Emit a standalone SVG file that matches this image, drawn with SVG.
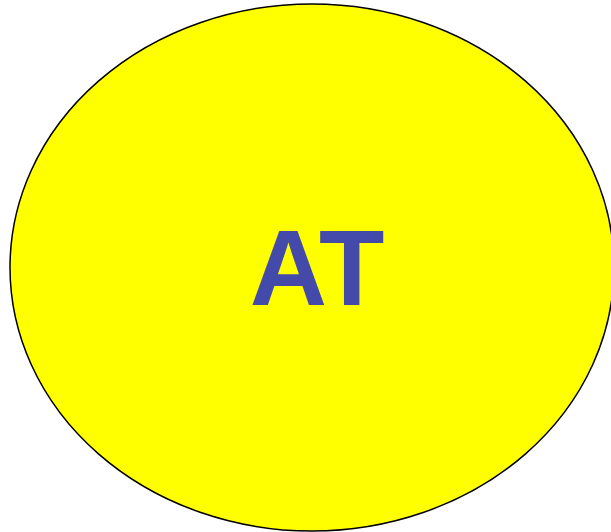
<svg xmlns="http://www.w3.org/2000/svg" width="611" height="532" viewBox="0 0 611 532">
<style>
.node-shape{fill:#ffff00;stroke:#000;stroke-width:1.5}
.label{font-family:"Liberation Sans",Arial,sans-serif;font-weight:bold;fill:#444aaa}
</style>
<rect width="611" height="532" fill="#fff"/>
<g id="connectors"></g>
<g id="node-AT">
<ellipse class="node-shape" cx="312" cy="267.5" rx="302" ry="263.5"/>
<text class="label" x="317" y="305" font-size="107" text-anchor="middle">AT</text>
</g>
</svg>
